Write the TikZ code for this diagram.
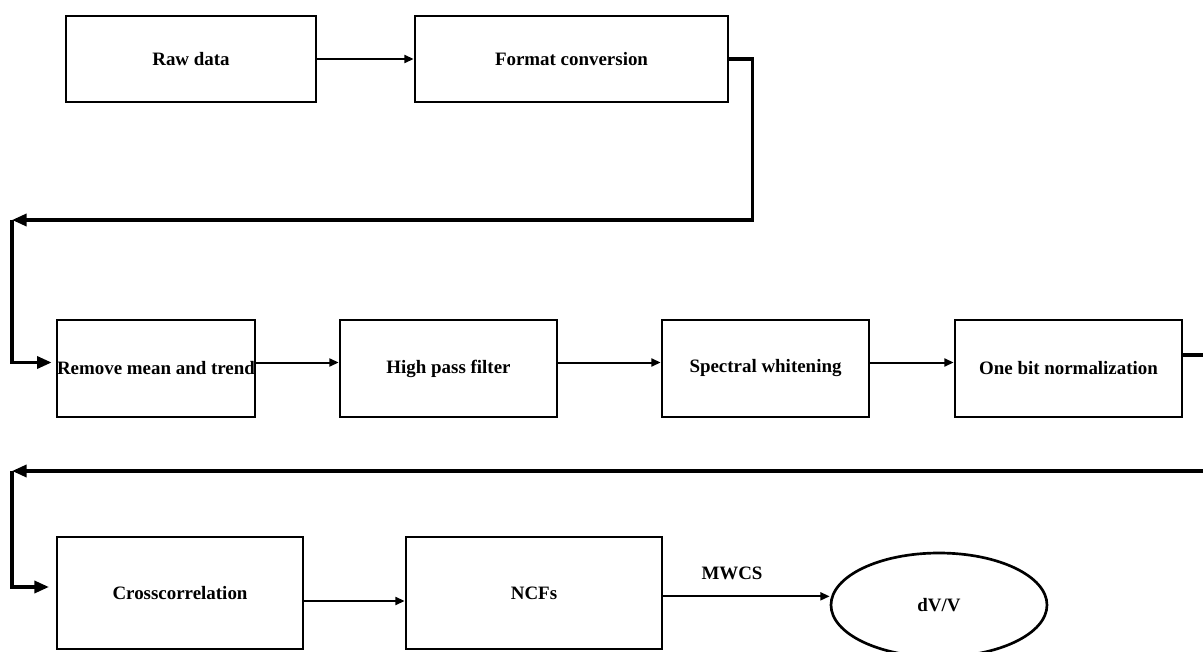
\documentclass[tikz,border=0pt]{standalone}
\usepackage{fontspec}
\setmainfont{Liberation Serif}
\usetikzlibrary{arrows.meta, shapes.geometric}

\begin{document}
\begin{tikzpicture}[x=0.75pt, y=-0.75pt,
        txt/.style={font=\fontsize{14.2}{17}\selectfont\bfseries},
        box/.style={txt, draw=black, line width=2pt, rectangle, inner sep=0pt},
        oval/.style={txt, draw=black, line width=2pt, ellipse, inner sep=0pt},
        arr/.style={line width=1.5pt, -{Triangle[length=7pt, width=6pt]}},
        loopline/.style={line width=2.6pt, -{Triangle[length=11pt, width=9pt]}}]
                \useasboundingbox (0,0) rectangle (1203,652);
                \node[box, minimum width=187.5pt, minimum height=64.5pt] (raw) at (191,59) {Raw data};
                \node[box, minimum width=234.75pt, minimum height=64.5pt] (fmt) at (571.5,59) {Format conversion};
                \node[box, minimum width=148.5pt, minimum height=72.75pt] (remove) at (156,368.5) {Remove mean and trend};
                \node[box, minimum width=162.75pt, minimum height=72.75pt] (hpf) at (448.5,368.5) {High pass filter};
                \node[box, minimum width=155.25pt, minimum height=72.75pt] (spw) at (765.5,368.5) {Spectral whitening};
                \node[box, minimum width=170.25pt, minimum height=72.75pt] (onebit) at (1068.5,368.5) {One bit normalization};
                \node[box, minimum width=184.5pt, minimum height=84pt] (cross) at (180,593) {Crosscorrelation};
                \node[box, minimum width=192pt, minimum height=84pt] (ncf) at (534,593) {NCFs};
                \node[oval, minimum width=162pt, minimum height=78pt] (dvv) at (939,605) {dV/V};
                \node[txt] (mwcs) at (732,573) {MWCS};
                \coordinate (turnA) at (12,220);
                \coordinate (turnB) at (12,471);
                \draw[arr] (raw.east) -- (fmt.west);
                \draw[loopline] (fmt.east) -- ++(23,0) |- (turnA);
                \draw[loopline, shorten >=3pt] (turnA) |- ([yshift=4.5pt]remove.west);
                \draw[arr] ([yshift=4.5pt]remove.east) -- ([yshift=4.5pt]hpf.west);
                \draw[arr] ([yshift=4.5pt]hpf.east) -- ([yshift=4.5pt]spw.west);
                \draw[arr] ([yshift=4.5pt]spw.east) -- ([yshift=4.5pt]onebit.west);
                \draw[loopline] ([yshift=10pt]onebit.east) -- ++(22,0) |- (turnB);
                \draw[loopline, shorten >=5pt] (turnB) |- ([yshift=4.5pt]cross.west);
                \draw[arr] ([yshift=-6pt]cross.east) -- ([yshift=-6pt]ncf.west);
                \draw[arr] ([yshift=-2.5pt]ncf.east) -- ([yshift=-2.5pt]ncf.east -| dvv.west);
\end{tikzpicture}
\end{document}
